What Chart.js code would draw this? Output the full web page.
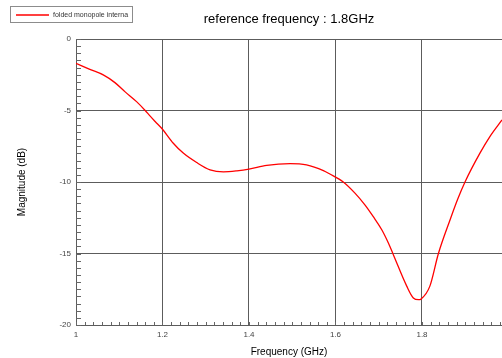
<!DOCTYPE html>
<html>
<head>
<meta charset="utf-8">
<script src="https://cdn.jsdelivr.net/npm/chart.js@4.4.0/dist/chart.umd.min.js"></script>
<style>
  html, body { margin: 0; padding: 0; background: #fff; overflow: hidden; }
  #wrap { width: 502px; height: 358px; }
</style>
</head>
<body>
<div id="wrap"><canvas id="chart" width="502" height="358"></canvas></div>
<script>
// values
var titleText = 'reference frequency : 1.8GHz';
var seriesName = 'folded monopole interna';

var freqGHz = [1.000, 1.032, 1.063, 1.090, 1.113, 1.140, 1.160, 1.171, 1.183, 1.200,
  1.225, 1.248, 1.279, 1.310, 1.341, 1.372, 1.400, 1.441, 1.495, 1.533,
  1.572, 1.587, 1.618, 1.645, 1.668, 1.687, 1.707, 1.722, 1.734, 1.765,
  1.780, 1.792, 1.798, 1.818, 1.838, 1.865, 1.882, 1.900, 1.934, 1.957, 1.985];
var magnitudeDb = [-1.70, -2.12, -2.51, -3.05, -3.68, -4.38, -5.00, -5.38, -5.77, -6.31,
  -7.29, -7.98, -8.64, -9.15, -9.29, -9.22, -9.10, -8.83, -8.71, -8.80,
  -9.20, -9.44, -10.0, -10.78, -11.6, -12.41, -13.34, -14.25, -15.1, -17.3,
  -18.11, -18.23, -18.18, -17.3, -15.0, -12.64, -11.24, -9.96, -7.98, -6.82, -5.66];

var xTickValues = [1, 1.2, 1.4, 1.6, 1.8];
var xTickLabels = ['1', '1.2', '1.4', '1.6', '1.8'];
var yTickValues = [0, -5, -10, -15, -20];
var yTickLabels = ['0', '-5', '-10', '-15', '-20'];

var lineColor = '#ff0000';
var gridColor = '#5c5c5c';
var tickFont = { family: 'Liberation Sans, Arial, sans-serif', size: 8 };

function findMajor(list, v) {
  for (var i = 0; i < list.length; i++) {
    if (Math.abs(list[i] - v) < 1e-6) return i;
  }
  return -1;
}

var points = freqGHz.map(function(f, i) { return { x: f, y: magnitudeDb[i] }; });

// small inner tick marks + legend box + title
var decorPlugin = {
  id: 'decor',
  beforeDatasetsDraw: function(chart) {
    var c = chart.ctx, a = chart.chartArea;
    var xs = chart.scales.x, ys = chart.scales.y;
    c.save();
    c.strokeStyle = '#666';
    c.lineWidth = 1;
    c.beginPath();
    ys.ticks.forEach(function(t) {
      var py = Math.round(ys.getPixelForValue(t.value)) + 0.5;
      c.moveTo(a.left, py);
      c.lineTo(a.left + 5, py);
    });
    xs.ticks.forEach(function(t) {
      var px = Math.round(xs.getPixelForValue(t.value)) + 0.5;
      c.moveTo(px, a.bottom);
      c.lineTo(px, a.bottom - 3);
    });
    c.stroke();
    c.restore();
  },
  afterDraw: function(chart) {
    var c = chart.ctx, a = chart.chartArea;
    c.save();
    // legend
    c.strokeStyle = '#8c8c8c';
    c.lineWidth = 1;
    c.strokeRect(10.5, 6.5, 122, 16);
    c.strokeStyle = lineColor;
    c.lineWidth = 1.3;
    c.beginPath();
    c.moveTo(16, 15);
    c.lineTo(49, 15);
    c.stroke();
    c.fillStyle = '#333';
    c.font = '7px Liberation Sans, Arial, sans-serif';
    c.textBaseline = 'middle';
    c.textAlign = 'left';
    c.fillText(seriesName, 53, 15);
    // title
    c.fillStyle = '#000';
    c.font = '13px Liberation Sans, Arial, sans-serif';
    c.textAlign = 'center';
    c.fillText(titleText, (a.left + a.right) / 2, 19);
    c.restore();
  }
};

new Chart(document.getElementById('chart'), {
  type: 'line',
  data: {
    datasets: [{
      label: seriesName,
      data: points,
      borderColor: lineColor,
      borderWidth: 1.3,
      pointRadius: 0,
      cubicInterpolationMode: 'monotone',
      fill: false
    }]
  },
  options: {
    responsive: false,
    animation: false,
    layout: { autoPadding: false, padding: { left: 0, right: 0, top: 39, bottom: 0 } },
    plugins: {
      legend: { display: false },
      title: { display: false },
      tooltip: { enabled: false }
    },
    scales: {
      x: {
        type: 'linear',
        min: 1,
        max: 1.985,
        afterFit: function(s) {
          s.height = 33;
          s.paddingLeft = 0;
          s.paddingRight = 0;
        },
        border: { display: true, color: gridColor, width: 1 },
        grid: {
          drawTicks: false,
          color: function(ctx) {
            return ctx.tick && findMajor(xTickValues, ctx.tick.value) >= 0 ? gridColor : 'rgba(0,0,0,0)';
          }
        },
        ticks: {
          stepSize: 0.02,
          includeBounds: false,
          autoSkip: false,
          maxRotation: 0,
          padding: 5,
          color: '#444',
          font: tickFont,
          callback: function(v) {
            var i = findMajor(xTickValues, v);
            return i < 0 ? '' : xTickLabels[i];
          }
        },
        title: {
          display: true,
          text: 'Frequency (GHz)',
          color: '#000',
          font: { family: 'Liberation Sans, Arial, sans-serif', size: 10 },
          padding: { top: 0, bottom: 0 }
        }
      },
      y: {
        type: 'linear',
        min: -20,
        max: 0,
        afterFit: function(s) { s.width = 76; },
        border: { display: true, color: gridColor, width: 1 },
        grid: {
          drawTicks: false,
          color: function(ctx) {
            return ctx.tick && findMajor(yTickValues, ctx.tick.value) >= 0 ? gridColor : 'rgba(0,0,0,0)';
          }
        },
        ticks: {
          stepSize: 0.5,
          autoSkip: false,
          padding: 5,
          color: '#444',
          font: tickFont,
          callback: function(v) {
            var i = findMajor(yTickValues, v);
            return i < 0 ? '' : yTickLabels[i];
          }
        },
        title: {
          display: true,
          text: 'Magnitude (dB)',
          color: '#000',
          font: { family: 'Liberation Sans, Arial, sans-serif', size: 10 },
          padding: { top: 16, bottom: 0 }
        }
      }
    }
  },
  plugins: [decorPlugin]
});
</script>
</body>
</html>
